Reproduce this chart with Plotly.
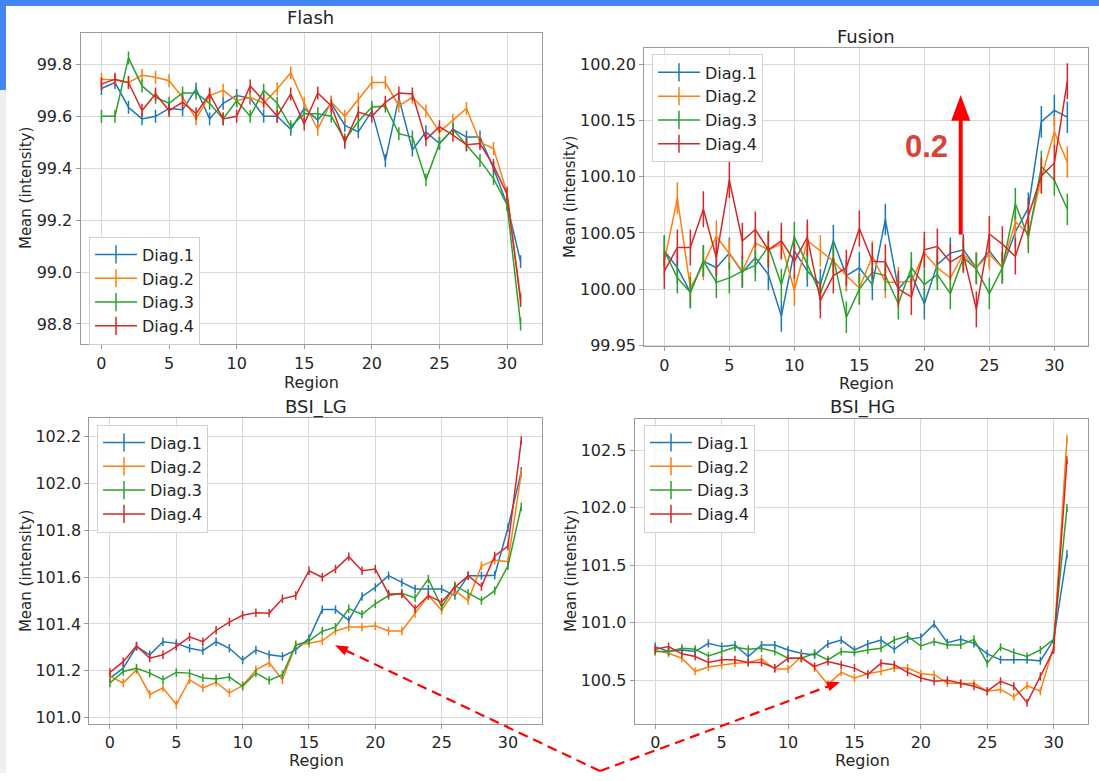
import plotly.graph_objects as go

W, H = 1099, 781

regions = list(range(32))
diag_names = ["Diag.1", "Diag.2", "Diag.3", "Diag.4"]
colors = ["#1f77b4", "#ff7f0e", "#2ca02c", "#d62728"]

# ---- Flash ----
flash_d1 = [99.707, 99.73, 99.635, 99.59, 99.60, 99.63, 99.625, 99.705, 99.59, 99.65, 99.68, 99.67,
            99.60, 99.60, 99.55, 99.63, 99.585, 99.65, 99.565, 99.54, 99.62, 99.43, 99.67, 99.47,
            99.54, 99.495, 99.55, 99.52, 99.52, 99.40, 99.26, 99.04]
flash_d2 = [99.743, 99.74, 99.73, 99.758, 99.75, 99.737, 99.673, 99.59, 99.68, 99.70, 99.66, 99.673,
            99.65, 99.705, 99.768, 99.65, 99.55, 99.655, 99.60, 99.667, 99.73, 99.73, 99.64, 99.673,
            99.62, 99.54, 99.585, 99.63, 99.50, 99.476, 99.305, 98.90]
flash_d3 = [99.60, 99.60, 99.825, 99.717, 99.673, 99.65, 99.69, 99.69, 99.65, 99.59, 99.66, 99.60,
            99.70, 99.65, 99.56, 99.61, 99.61, 99.60, 99.51, 99.58, 99.635, 99.64, 99.533, 99.52,
            99.355, 99.495, 99.55, 99.49, 99.43, 99.36, 99.26, 98.80]
flash_d4 = [99.724, 99.743, 99.73, 99.622, 99.686, 99.622, 99.654, 99.61, 99.686, 99.59, 99.60, 99.717,
            99.66, 99.60, 99.686, 99.57, 99.69, 99.64, 99.50, 99.616, 99.60, 99.654, 99.69, 99.686,
            99.51, 99.56, 99.527, 99.49, 99.495, 99.41, 99.30, 98.89]
flash_err = [0.025, 0.025, 0.025, 0.025]

# ---- Fusion ----
fusion_d1 = [100.034, 100.019, 99.997, 100.025, 100.019, 100.032, 100.015, 100.028, 100.013, 99.976,
             100.034, 100.016, 100.004, 100.043, 100.012, 100.019, 100.004, 100.062, 100.000, 100.013,
             99.987, 100.022, 100.032, 100.035, 100.019, 100.034, 100.019, 100.051, 100.072, 100.149,
             100.159, 100.153]
fusion_d2 = [100.025, 100.081, 100.001, 100.022, 100.047, 100.031, 100.016, 100.041, 100.035, 100.040,
             99.999, 100.043, 100.034, 100.025, 100.012, 100.001, 100.029, 100.006, 100.006, 100.007,
             100.032, 100.019, 100.010, 100.031, 100.019, 100.031, 100.019, 100.060, 100.049, 100.099,
             100.140, 100.113]
fusion_d3 = [100.034, 100.010, 99.997, 100.025, 100.006, 100.010, 100.016, 100.021, 100.038, 100.004,
             100.046, 100.022, 99.996, 100.028, 99.975, 100.000, 100.015, 100.012, 99.987, 100.019,
             100.004, 100.013, 99.996, 100.028, 100.018, 99.996, 100.019, 100.076, 100.046, 100.109,
             100.097, 100.071]
fusion_d4 = [100.016, 100.037, 100.037, 100.071, 100.028, 100.097, 100.043, 100.053, 100.035, 100.043,
             100.025, 100.046, 99.990, 100.012, 100.019, 100.054, 100.025, 100.024, 100.000, 99.993,
             100.035, 100.038, 100.024, 100.031, 99.982, 100.049, 100.040, 100.029, 100.065, 100.101,
             100.112, 100.185]
fusion_err = [0.014, 0.014, 0.014, 0.016]

# ---- BSI_LG ----
lg_d1 = [101.169, 101.211, 101.303, 101.268, 101.324, 101.317, 101.296, 101.286, 101.324, 101.296,
         101.246, 101.289, 101.268, 101.261, 101.289, 101.338, 101.461, 101.461, 101.415, 101.517,
         101.556, 101.606, 101.577, 101.549, 101.549, 101.549, 101.521, 101.606, 101.606, 101.608,
         101.81, 102.05]
lg_d2 = [101.176, 101.148, 101.204, 101.099, 101.127, 101.056, 101.162, 101.127, 101.151, 101.106,
         101.137, 101.204, 101.234, 101.162, 101.310, 101.317, 101.328, 101.370, 101.387, 101.387,
         101.392, 101.370, 101.370, 101.444, 101.521, 101.458, 101.542, 101.500, 101.648, 101.672,
         101.666, 102.042]
lg_d3 = [101.148, 101.197, 101.211, 101.190, 101.162, 101.193, 101.190, 101.169, 101.165, 101.173,
         101.134, 101.190, 101.159, 101.183, 101.310, 101.327, 101.369, 101.386, 101.465, 101.441,
         101.486, 101.521, 101.531, 101.511, 101.592, 101.472, 101.563, 101.531, 101.500, 101.542,
         101.648, 101.900]
lg_d4 = [101.193, 101.239, 101.306, 101.254, 101.268, 101.303, 101.345, 101.324, 101.373, 101.408,
         101.437, 101.448, 101.446, 101.507, 101.521, 101.627, 101.599, 101.634, 101.687, 101.627,
         101.634, 101.528, 101.528, 101.465, 101.521, 101.493, 101.556, 101.606, 101.559, 101.690,
         101.732, 102.183]
lg_err = [0.018, 0.018, 0.018, 0.018]

# ---- BSI_HG ----
hg_d1 = [100.793, 100.750, 100.764, 100.750, 100.821, 100.793, 100.807, 100.707, 100.807, 100.807,
         100.764, 100.735, 100.721, 100.816, 100.850, 100.764, 100.816, 100.850, 100.770, 100.856,
         100.873, 100.988, 100.827, 100.856, 100.821, 100.730, 100.678, 100.678, 100.678, 100.669,
         100.850, 101.596]
hg_d2 = [100.758, 100.735, 100.692, 100.578, 100.615, 100.635, 100.649, 100.655, 100.684, 100.598,
         100.598, 100.707, 100.606, 100.463, 100.569, 100.520, 100.557, 100.578, 100.606, 100.606,
         100.557, 100.549, 100.477, 100.471, 100.471, 100.405, 100.420, 100.356, 100.454, 100.405,
         100.793, 102.600]
hg_d3 = [100.750, 100.750, 100.778, 100.770, 100.712, 100.750, 100.787, 100.770, 100.778, 100.750,
         100.692, 100.692, 100.735, 100.678, 100.750, 100.741, 100.764, 100.778, 100.850, 100.884,
         100.798, 100.836, 100.807, 100.807, 100.856, 100.649, 100.787, 100.741, 100.707, 100.764,
         100.856, 101.998]
hg_d4 = [100.770, 100.793, 100.730, 100.707, 100.655, 100.678, 100.678, 100.655, 100.655, 100.606,
         100.692, 100.692, 100.620, 100.664, 100.635, 100.606, 100.549, 100.649, 100.635, 100.569,
         100.520, 100.491, 100.500, 100.471, 100.448, 100.405, 100.491, 100.448, 100.305, 100.534,
         100.764, 102.414]
hg_err = [0.035, 0.035, 0.035, 0.035]

x_ticks = [0, 5, 10, 15, 20, 25, 30]

panels = [
    dict(title="Flash", series=[flash_d1, flash_d2, flash_d3, flash_d4], err=flash_err,
         xpx=(80.5, 541.5), ypx=(33.3, 348.0), yrange=(98.721, 99.921), dtick=0.2, fmt=".1f",
         legend_px=(89, 239), title_px=(310, 18), xlab_px=(311, 386), ylab_px=(26, 190)),
    dict(title="Fusion", series=[fusion_d1, fusion_d2, fusion_d3, fusion_d4], err=fusion_err,
         xpx=(644.2, 1087.5), ypx=(48.3, 350.0), yrange=(99.949, 100.2147), dtick=0.05, fmt=".2f",
         legend_px=(652, 55), title_px=(866, 37), xlab_px=(866, 387), ylab_px=(570, 199)),
    dict(title="BSI_LG", series=[lg_d1, lg_d2, lg_d3, lg_d4], err=lg_err,
         xpx=(89.4, 541.8), ypx=(422.7, 731.0), yrange=(100.975, 102.277), dtick=0.2, fmt=".1f",
         legend_px=(97, 429), title_px=(316, 411), xlab_px=(316, 768), ylab_px=(26, 577)),
    dict(title="BSI_HG", series=[hg_d1, hg_d2, hg_d3, hg_d4], err=hg_err,
         xpx=(634.7, 1087.5), ypx=(423.3, 731.0), yrange=(100.124, 102.773), dtick=0.5, fmt=".1f",
         legend_px=(644, 429), title_px=(862, 411), xlab_px=(862, 768), ylab_px=(571, 577)),
]

FONT = "DejaVu Sans"
TXT = "#262626"


def fx(px):
    return px / W


def fy(py):
    return 1 - py / H


fig = go.Figure()
layout = dict(
    width=W, height=H, margin=dict(l=0, r=0, t=0, b=0),
    paper_bgcolor="white", plot_bgcolor="white",
    font=dict(family=FONT, size=16, color=TXT),
    showlegend=True,
)
annotations = []
shapes = []


def text_ann(text, px, py, size, angle=0, family=FONT, color=TXT):
    return dict(text=text, x=fx(px), y=fy(py), xref="paper", yref="paper", showarrow=False,
                xanchor="center", yanchor="middle", textangle=angle, borderpad=0,
                font=dict(family=family, size=size, color=color))


for k, p in enumerate(panels):
    n = "" if k == 0 else str(k + 1)
    xa, ya = "x" + n, "y" + n
    leg = "legend" + n
    for s, (vals, col, name) in enumerate(zip(p["series"], colors, diag_names)):
        fig.add_trace(go.Scatter(
            x=regions, y=vals, mode="lines", xaxis=xa, yaxis=ya,
            line=dict(color=col, width=1.5), showlegend=False,
            error_y=dict(type="constant", value=p["err"][s], color=col, thickness=1.5, width=0),
            hoverinfo="skip"))
    for s, (col, name) in enumerate(zip(colors, diag_names)):
        fig.add_trace(go.Scatter(
            x=[None], y=[None], mode="lines+markers", xaxis=xa, yaxis=ya, name=name,
            line=dict(color=col, width=1.5), legend=leg,
            marker=dict(symbol="line-ns", size=13, line=dict(color=col, width=1.5))))
    axis_common = dict(showgrid=True, gridcolor="#d9d9d9", gridwidth=1,
                       showline=True, mirror=True, linecolor="#9a9a9a", linewidth=1,
                       ticks="outside", ticklen=4, tickcolor="#9a9a9a",
                       tickfont=dict(family=FONT, size=16, color=TXT), zeroline=False)
    layout["xaxis" + n] = dict(axis_common, domain=[fx(p["xpx"][0]), fx(p["xpx"][1])],
                               range=[-1.55, 32.55], tickvals=x_ticks, anchor=ya)
    layout["yaxis" + n] = dict(axis_common, domain=[fy(p["ypx"][1]), fy(p["ypx"][0])],
                               range=list(p["yrange"]), dtick=p["dtick"], tick0=0,
                               tickformat=p["fmt"], anchor=xa)
    layout[leg] = dict(x=fx(p["legend_px"][0]), y=fy(p["legend_px"][1]), xanchor="left",
                       yanchor="top", bgcolor="rgba(255,255,255,0.85)", bordercolor="#d0d0d0",
                       borderwidth=1, font=dict(family=FONT, size=16, color=TXT),
                       tracegroupgap=0, itemwidth=42)
    annotations.append(text_ann(p["title"], *p["title_px"], 18))
    annotations.append(text_ann("Region", *p["xlab_px"], 16))
    annotations.append(text_ann("Mean (intensity)", *p["ylab_px"], 15, angle=-90))

# "0.2" label
annotations.append(text_ann("<b>0.2</b>", 926.5, 148.5, 31, family="Liberation Sans", color="#d8443a"))

# slide decoration
shapes.append(dict(type="rect", xref="paper", yref="paper", x0=0, x1=1, y0=fy(6), y1=1,
                   fillcolor="#4285f4", line=dict(width=0), layer="above"))
shapes.append(dict(type="rect", xref="paper", yref="paper", x0=0, x1=fx(6), y0=fy(91), y1=1,
                   fillcolor="#4285f4", line=dict(width=0), layer="above"))
shapes.append(dict(type="rect", xref="paper", yref="paper", x0=0, x1=fx(6), y0=0, y1=fy(91),
                   fillcolor="#efefef", line=dict(width=0), layer="above"))


def tri_path(tip, base_from, length, half_w):
    tx, ty = tip
    bx, by = base_from
    dx, dy = tx - bx, ty - by
    L = (dx * dx + dy * dy) ** 0.5
    ux, uy = dx / L, dy / L
    cx, cy = tx - ux * length, ty - uy * length
    nx, ny = -uy, ux
    pts = [(tx, ty), (cx + nx * half_w, cy + ny * half_w), (cx - nx * half_w, cy - ny * half_w)]
    return "M " + " L ".join(f"{fx(a):.5f},{fy(b):.5f}" for a, b in pts) + " Z"


# vertical red arrow
shapes.append(dict(type="line", xref="paper", yref="paper", x0=fx(960.7), x1=fx(960.7),
                   y0=fy(237), y1=fy(119), line=dict(color="#ff0000", width=4), layer="above"))
shapes.append(dict(type="path", xref="paper", yref="paper",
                   path=tri_path((960.7, 96), (960.7, 237), 26, 9.5),
                   fillcolor="#ff0000", line=dict(width=0), layer="above"))

# dashed arrows
start = (600, 779)
for tip in [(335, 652), (840, 689)]:
    dx, dy = tip[0] - start[0], tip[1] - start[1]
    L = (dx * dx + dy * dy) ** 0.5
    ex, ey = tip[0] - dx / L * 10, tip[1] - dy / L * 10
    shapes.append(dict(type="line", xref="paper", yref="paper", x0=fx(start[0]), y0=fy(start[1]),
                       x1=fx(ex), y1=fy(ey), line=dict(color="#ff0000", width=2.2, dash="10px,6px"),
                       layer="above"))
    shapes.append(dict(type="path", xref="paper", yref="paper", path=tri_path(tip, start, 13, 5),
                       fillcolor="#ff0000", line=dict(width=0), layer="above"))

layout["annotations"] = annotations
layout["shapes"] = shapes
fig.update_layout(**layout)
fig.write_html("out.html")
